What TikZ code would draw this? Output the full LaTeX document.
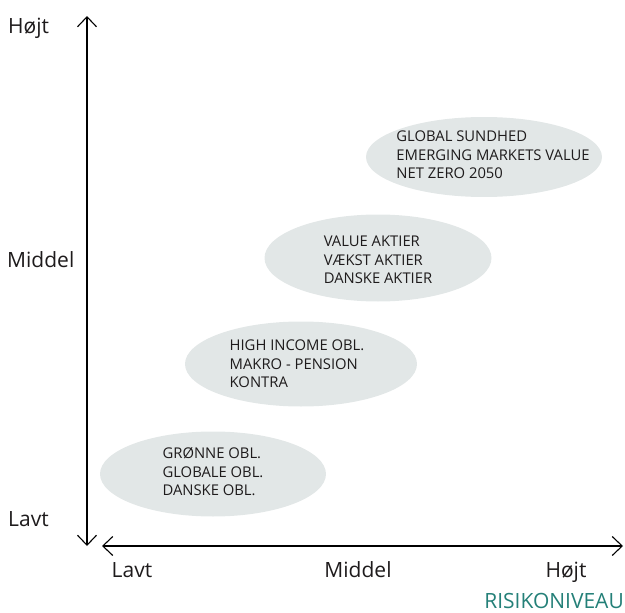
\documentclass[tikz,border=0pt]{standalone}
\usepackage{fontspec}
\setmainfont{Open Sans}
\usetikzlibrary{arrows.meta}
\usetikzlibrary{shapes.geometric}

\definecolor{blobgray}{RGB}{226,231,231}
\definecolor{inkgray}{RGB}{30,27,28}
\definecolor{riskteal}{RGB}{36,128,120}

\begin{document}
\begin{tikzpicture}[x=1pt,y=-1pt,
	blob/.style={ellipse,fill=blobgray,inner sep=0pt},
	fund/.style={align=left,text=inkgray,inner sep=0pt,font=\fontsize{14.8}{18.5}\selectfont},
	level/.style={anchor=base,text=inkgray,inner sep=0pt,font=\fontsize{21}{24}\selectfont},
	axis/.style={line width=1.1pt,{Straight Barb[length=10pt,width=19pt]}-{Straight Barb[length=10pt,width=19pt]}}]
	\useasboundingbox (0,0) rectangle (625,613);

	\node[blob,minimum width=226pt,minimum height=85pt](low) at (213,474) {};
	\node[blob,minimum width=232pt,minimum height=85pt](lowmid) at (301,364) {};
	\node[blob,minimum width=227pt,minimum height=87pt](mid) at (378,258) {};
	\node[blob,minimum width=236pt,minimum height=80pt](high) at (484,157) {};

	\node[fund](lowtxt) at (213,472) {GRØNNE OBL.\\GLOBALE OBL.\\DANSKE OBL.};
	\node[fund](lowmidtxt) at (297,364) {HIGH INCOME OBL.\\MAKRO - PENSION\\KONTRA};
	\node[fund](midtxt) at (378,260) {VALUE AKTIER\\VÆKST AKTIER\\DANSKE AKTIER};
	\node[fund](hightxt) at (493,155) {GLOBAL SUNDHED\\EMERGING MARKETS VALUE\\NET ZERO 2050};

	\coordinate (yhi) at (87,16);
	\coordinate (ylo) at (87,546);
	\coordinate (xlo) at (102,546);
	\coordinate (xhi) at (623,546);

	\draw[axis] (ylo) -- (yhi);
	\draw[axis] (xlo) -- (xhi);

	\node[level,anchor=base west](yhigh) at (8,33) {Højt};
	\node[level,anchor=base west](ymid) at (7,267) {Middel};
	\node[level,anchor=base west](ylow) at (8,526) {Lavt};

	\node[level](xlow) at (132,577) {Lavt};
	\node[level](xmid) at (358,577) {Middel};
	\node[level](xhigh) at (566,577) {Højt};
	\node[level,anchor=base east,text=riskteal,font=\fontsize{21}{24}\selectfont](risk) at (624,608) {RISIKONIVEAU};
\end{tikzpicture}
\end{document}
